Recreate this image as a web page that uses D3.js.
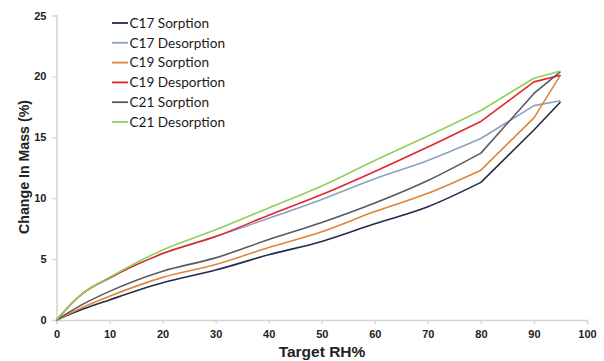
<!DOCTYPE html>
<html><head><meta charset="utf-8">
<script src="https://cdn.jsdelivr.net/npm/d3@7"></script>
<style>body{margin:0;background:#fff;} svg{display:block;}</style>
</head><body>
<svg id="chart" width="604" height="361"></svg>
<script>
const rh = [0, 5, 10, 20, 30, 40, 50, 60, 70, 80, 90, 95];
const c17Sorption   = [0, 0.9, 1.65, 3.05, 4.1, 5.35, 6.45, 7.9, 9.3, 11.3, 15.6, 17.9];
const c17Desorption = [0, 2.2, 3.45, 5.45, 6.85, 8.35, 9.9, 11.6, 13.1, 14.9, 17.6, 18.0];
const c19Sorption   = [0, 1.05, 1.95, 3.5, 4.55, 5.95, 7.25, 8.9, 10.4, 12.3, 16.6, 20.1];
const c19Desorption = [0, 2.2, 3.45, 5.45, 6.85, 8.6, 10.3, 12.2, 14.2, 16.3, 19.55, 20.1];
const c21Sorption   = [0, 1.3, 2.35, 4.0, 5.1, 6.6, 8.0, 9.6, 11.45, 13.7, 18.6, 20.4];
const c21Desorption = [0, 2.2, 3.5, 5.75, 7.4, 9.2, 11.0, 13.1, 15.1, 17.2, 19.85, 20.45];
const seriesNames = ["C17 Sorption", "C17 Desorption", "C19 Sorption", "C19 Desportion", "C21 Sorption", "C21 Desorption"];
const seriesValues = [c17Sorption, c17Desorption, c19Sorption, c19Desorption, c21Sorption, c21Desorption];
const seriesColors = ["#1f2d4d", "#8ca3bd", "#e0843a", "#e3262e", "#5a5a5e", "#8ed15a"];
const xTicks = [0, 10, 20, 30, 40, 50, 60, 70, 80, 90, 100];
const yTicks = [0, 5, 10, 15, 20, 25];

const svg = d3.select("#chart");
const x = d3.scaleLinear().domain([0, 100]).range([56.5, 587]);
const y = d3.scaleLinear().domain([0, 25]).range([320, 15.5]);
const axisColor = "#d4d4d4";

const gx = svg.append("g").attr("transform", `translate(0,${y(0)})`)
  .call(d3.axisBottom(x).tickValues(xTicks).tickSize(4).tickPadding(6));
const gy = svg.append("g").attr("transform", `translate(${x(0)},0)`)
  .call(d3.axisLeft(y).tickValues(yTicks).tickSize(4).tickPadding(6));
[gx, gy].forEach(g => {
  g.select(".domain").attr("stroke", axisColor).attr("stroke-width", 1.5);
  g.selectAll(".tick line").attr("stroke", axisColor).attr("stroke-width", 1.2);
  g.selectAll(".tick text").attr("fill", "#222").attr("font-family", "Liberation Sans, Arial, sans-serif")
    .attr("font-weight", "bold").attr("font-size", 11);
});

// smooth lower part, straight segments for the upper part (80-95)
const smooth = d3.line().x(d => x(d[0])).y(d => y(d[1])).curve(d3.curveMonotoneX);
const straight = d3.line().x(d => x(d[0])).y(d => y(d[1]));
const splitAt = rh.indexOf(80);
seriesValues.forEach((vals, i) => {
  const pts = rh.map((r, j) => [r, vals[j]]);
  const d = smooth(pts.slice(0, splitAt + 1)) + straight(pts.slice(splitAt)).replace(/^M/, "L");
  svg.append("path").attr("fill", "none").attr("stroke", seriesColors[i]).attr("stroke-width", 1.6)
    .attr("stroke-linejoin", "round").attr("d", d);
});

// Legend
const lg = svg.append("g");
seriesNames.forEach((name, i) => {
  const yy = 23 + i * 19.8;
  lg.append("line").attr("x1", 112).attr("x2", 128).attr("y1", yy).attr("y2", yy)
    .attr("stroke", seriesColors[i]).attr("stroke-width", 1.8);
  lg.append("text").attr("x", 129.5).attr("y", yy).attr("dy", "0.35em")
    .attr("font-family", "Lato, sans-serif").attr("font-size", 13.6).attr("fill", "#1a1a1a").text(name);
});

svg.append("text").attr("x", 322).attr("y", 357).attr("text-anchor", "middle")
  .attr("font-family", "Liberation Sans, Arial, sans-serif").attr("font-weight", "bold")
  .attr("font-size", 15.5).attr("fill", "#222").text("Target RH%");
svg.append("text").attr("transform", "translate(29,167) rotate(-90)").attr("text-anchor", "middle")
  .attr("font-family", "Liberation Sans, Arial, sans-serif").attr("font-weight", "bold")
  .attr("font-size", 14.2).attr("fill", "#222").text("Change In Mass (%)");
</script>
</body></html>
